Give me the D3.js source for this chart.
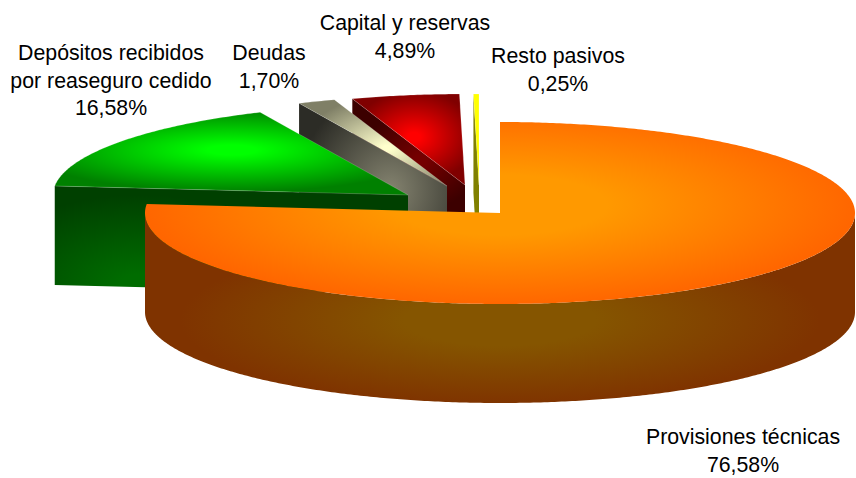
<!DOCTYPE html>
<html>
<head>
<meta charset="utf-8">
<script src="https://cdnjs.cloudflare.com/ajax/libs/d3/7.8.5/d3.min.js"></script>
<style>
html, body { margin: 0; padding: 0; background: #fff; }
svg { display: block; }
text { font-family: "Liberation Sans", Arial, sans-serif; font-size: 21.3px; fill: #000; }
</style>
</head>
<body>
<svg class="chart" width="856" height="478"></svg>
<script>
// chart data, clockwise from 12 o'clock
const names = ['Provisiones técnicas', 'Depósitos recibidos por reaseguro cedido', 'Deudas', 'Capital y reservas', 'Resto pasivos'];
const shares = [76.58, 16.58, 1.70, 4.89, 0.25];
const shareLabels = ['76,58%', '16,58%', '1,70%', '4,89%', '0,25%'];

// chart configuration
const rx = 355, ry = 91, depth = 99;
const cx = 500, cy = 213;
// how far each slice is pulled out of the pie
const shift = [[0, 0], [-92, -18], [-53, -27], [-35, -28], [-21, -28]];
const labelLines = [[names[0]], ['Depósitos recibidos', 'por reaseguro cedido'], [names[2]], [names[3]], [names[4]]];
const labelPos = [[743, 444], [111, 60], [269, 60], [405, 30], [558, 63]];
const lineGap = 27.5;

// gradients: [centre colour, edge colour], then [x, y, radius x, radius y] on the page
const topColors = [['#ff9900', '#ff6600'], ['#00ff00', '#008000'], ['#ffffcc', '#7f7f66'], ['#ff0000', '#800000'], ['#ffff00', '#ffff00']];
const topGlow = [[500, 205, 355, 100], [232, 150, 205, 42], [387, 148, 85, 52], [414, 137, 62, 46], [476, 140, 50, 50]];
const wallColors = [['#855500', '#7f3300'], ['#006c00', '#004000'], ['#807f6c', '#2c2c26'], ['#740000', '#3c0000'], ['#808000', '#808000']];
const wallGlow = [[500, 320, 320, 85], [140, 285, 165, 90], [390, 190, 92, 100], [420, 160, 60, 50], [476, 200, 50, 50]];
// share of the radius that stays at the centre colour
const plateau = [0.3, 0.12, 0.05, 0.1, 0];

const chart = d3.select('.chart');
const defs = chart.append('defs');

const pie = d3.pie().sort(null)(shares);
const px = d3.scaleLinear().domain([-1, 1]).range([-rx, rx]);
const py = d3.scaleLinear().domain([-1, 1]).range([-ry, ry]);

// angle measured clockwise from the top, projected on to the flat ellipse
function point(a, dz) {
    return [px(Math.sin(a)), py(-Math.cos(a)) + (dz || 0)];
}

function arcPoints(a0, a1, dz) {
    const n = Math.max(2, Math.ceil((a1 - a0) / 0.01));
    return d3.range(n + 1).map(i => point(a0 + (a1 - a0) * i / n, dz));
}

const line = d3.line();

function topPath(d) {
    return line([[0, 0]].concat(arcPoints(d.startAngle, d.endAngle))) + 'Z';
}

// side facing us after the slice is cut out
function radialWall(d) {
    const a = d.startAngle;
    return line([[0, 0], point(a), point(a, depth), [0, depth]]) + 'Z';
}

// the round outer rim, only the front half shows
function rimPath(d) {
    const a0 = Math.max(d.startAngle, Math.PI / 2), a1 = Math.min(d.endAngle, 3 * Math.PI / 2);
    return line(arcPoints(a0, a1).concat(arcPoints(a0, a1, depth).reverse())) + 'Z';
}

function addGradient(id, i, colors, glow, flat) {
    // slices are drawn inside a translated group
    const ox = glow[i][0] - (cx + shift[i][0]), oy = glow[i][1] - (cy + shift[i][1]);
    const grad = defs.append('radialGradient')
        .attr('id', id + i)
        .attr('gradientUnits', 'userSpaceOnUse')
        .attr('cx', 0).attr('cy', 0).attr('r', 1)
        .attr('gradientTransform', `translate(${ox} ${oy}) scale(${glow[i][2]} ${glow[i][3]})`);
    grad.append('stop').attr('offset', flat).attr('stop-color', colors[i][0]);
    grad.append('stop').attr('offset', 1).attr('stop-color', colors[i][1]);
}

pie.forEach((d, i) => {
    addGradient('top', i, topColors, topGlow, plateau[i]);
    addGradient('wall', i, wallColors, wallGlow, plateau[i]);
});

// painter's order, back slices first
const order = [4, 3, 2, 1, 0];
const slices = chart.selectAll('g.slice').data(order.map(i => pie[i]))
  .enter().append('g')
    .attr('class', 'slice')
    .attr('transform', d => 'translate(' + (cx + shift[d.index][0]) + ',' + (cy + shift[d.index][1]) + ')');

slices.append('path')
    .attr('d', d => d.index === 0 ? rimPath(d) : radialWall(d))
    .attr('fill', d => 'url(#wall' + d.index + ')');

slices.append('path')
    .attr('d', topPath)
    .attr('fill', d => 'url(#top' + d.index + ')')
    .attr('stroke', '#fff')
    .attr('stroke-opacity', d => d.index === 0 ? 0 : 0.25)
    .attr('stroke-width', 0.7);

// labels
chart.selectAll('text.label').data(pie)
  .enter().append('text')
    .attr('class', 'label')
    .attr('text-anchor', 'middle')
    .attr('x', (d, i) => labelPos[i][0])
    .attr('y', (d, i) => labelPos[i][1])
    .each(function (d, i) {
        const lines = labelLines[i].concat(shareLabels[i]);
        d3.select(this).selectAll('tspan').data(lines)
          .enter().append('tspan')
            .attr('x', labelPos[i][0])
            .attr('dy', (t, n) => n ? lineGap : 0)
            .text(t => t);
    });
</script>
</body>
</html>
